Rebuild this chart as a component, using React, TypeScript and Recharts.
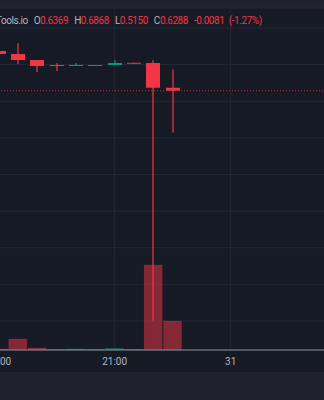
import { ComposedChart, Bar, XAxis, YAxis, CartesianGrid, ReferenceLine } from 'recharts';

// 30 min slots, the last ones are still empty
const slots = [
  '18:00', '18:30', '19:00', '19:30', '20:00', '20:30',
  '21:00', '21:30', '22:00', '22:30', '23:00', '23:30',
  '31', '00:30', '01:00', '01:30', '02:00', '02:30',
];

const opens = [0.7372, 0.729, 0.7126, 0.699, 0.6976, 0.6985, 0.699, 0.705, 0.7044, 0.6369];
const highs = [0.74, 0.759, 0.7126, 0.7044, 0.7044, 0.699, 0.7126, 0.7055, 0.7126, 0.6868];
const lows = [0.728, 0.7017, 0.6799, 0.6826, 0.6976, 0.6985, 0.699, 0.7035, 0.001, 0.515];
const closes = [0.729, 0.7126, 0.6962, 0.6976, 0.699, 0.699, 0.7044, 0.704, 0.6369, 0.6288];
const volumes = [10, 110, 20, 8, 10, 8, 15, 8, 850, 290];

const priceTicks = [0, 0.1, 0.2, 0.3, 0.4, 0.5, 0.6, 0.7, 0.8];
const lastClose = 0.6288;

const UP = '#089981';
const DOWN = '#f23645';

const data = slots.map((t, i) =>
  i < opens.length
    ? { t, o: opens[i], h: highs[i], l: lows[i], c: closes[i], v: volumes[i] }
    : { t }
);

function Candle(props: any) {
  const { x, y, width, height, payload } = props;
  if (!payload || payload.o == null) return null;
  const top = Math.min(y, y + height);
  const bot = Math.max(y, y + height);
  const { o, h, l, c } = payload;
  const py = (p: number) => top + ((h - p) / (h - l)) * (bot - top);
  const color = c >= o ? UP : DOWN;
  const cx = Math.round(x + width / 2);
  const bodyTop = py(Math.max(o, c));
  const bodyH = Math.max(1, py(Math.min(o, c)) - bodyTop);
  const bw = 14;
  return (
    <g>
      <line x1={cx} x2={cx} y1={top} y2={bot} stroke={color} strokeWidth={1.2} />
      <rect x={cx - bw / 2} y={bodyTop} width={bw} height={bodyH} fill={color} />
    </g>
  );
}

function Volume(props: any) {
  const { x, y, width, height, payload } = props;
  if (!payload || payload.v == null) return null;
  const up = payload.c >= payload.o;
  return (
    <rect
      x={x + 0.5}
      y={y}
      width={width - 1}
      height={Math.max(1, height)}
      fill={up ? 'rgba(8,153,129,0.5)' : 'rgba(242,54,69,0.5)'}
      stroke={up ? 'rgba(8,153,129,0.6)' : 'rgba(242,54,69,0.35)'}
      strokeWidth={0.5}
    />
  );
}

const label = { color: '#b2b5be' };
const value = { color: DOWN };

export default function App() {
  const band = 116 / 6;
  const chartW = band * slots.length;
  return (
    <div
      style={{
        position: 'fixed',
        left: 0,
        top: 0,
        width: 324,
        height: 400,
        overflow: 'hidden',
        background: '#1f222d',
        fontFamily: 'Roboto, sans-serif',
      }}
    >
      <div style={{ position: 'absolute', left: 0, top: 8, width: 324, height: 364, background: '#161a25' }} />
      <div style={{ position: 'absolute', left: -1 - band / 2, top: 0 }}>
        <ComposedChart
          width={chartW}
          height={372}
          data={data}
          margin={{ top: 8, right: 0, bottom: 0, left: 0 }}
          barCategoryGap={0}
          barGap={-19}
        >
          <CartesianGrid yAxisId="price" stroke="#242833" />
          <XAxis
            dataKey="t"
            interval={5}
            height={22}
            tickLine={false}
            axisLine={{ stroke: '#8c8f99' }}
            tick={{ fill: '#b2b5be', fontSize: 10, fontFamily: 'Roboto, sans-serif' }}
          />
          <YAxis yAxisId="price" hide type="number" domain={[-0.0792, 0.8546]} ticks={priceTicks} allowDataOverflow />
          <YAxis yAxisId="vol" hide type="number" domain={[0, 3420]} allowDataOverflow />
          <ReferenceLine
            yAxisId="price"
            y={lastClose}
            stroke={DOWN}
            strokeOpacity={0.7}
            strokeDasharray="1 2"
          />
          <Bar yAxisId="vol" dataKey="v" barSize={19} shape={<Volume />} isAnimationActive={false} />
          <Bar
            yAxisId="price"
            dataKey={(d: any) => (d.o == null ? null : [d.l, d.h])}
            barSize={19}
            shape={<Candle />}
            isAnimationActive={false}
          />
        </ComposedChart>
      </div>
      <div
        style={{
          position: 'absolute',
          left: -4,
          top: 15,
          fontSize: 10,
          letterSpacing: -0.45,
          lineHeight: '12px',
          whiteSpace: 'nowrap',
          display: 'flex',
          gap: 6,
        }}
      >
        <span style={label}>Tools.io</span>
        <span><span style={label}>O</span><span style={value}>0.6369</span></span>
        <span><span style={label}>H</span><span style={value}>0.6868</span></span>
        <span><span style={label}>L</span><span style={value}>0.5150</span></span>
        <span><span style={label}>C</span><span style={value}>0.6288</span></span>
        <span style={value}>-0.0081</span>
        <span style={{ ...value, marginLeft: -1.5 }}>(-1.27%)</span>
      </div>
    </div>
  );
}
